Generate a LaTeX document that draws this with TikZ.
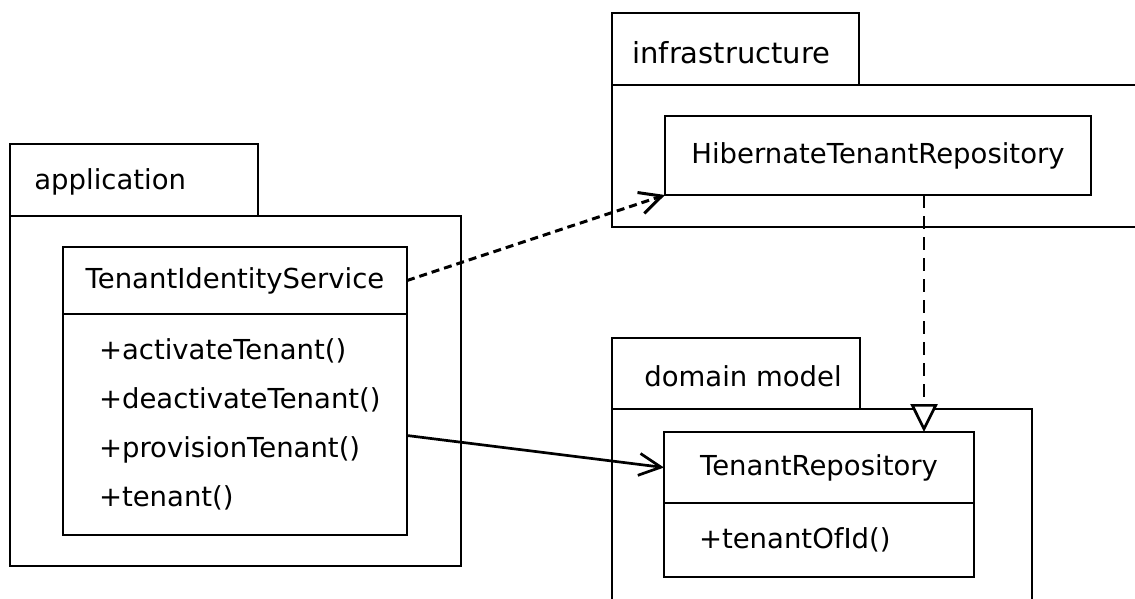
\documentclass[tikz,border=0pt]{standalone}
\usepackage{fontspec}
\setmainfont{DejaVu Sans}
\usetikzlibrary{arrows.meta,positioning}

\tikzset{
    every node/.style={font=\fontsize{27.5}{49}\selectfont},
    pkgname/.style={anchor=west, inner sep=0pt},
    clshead/.style={draw, rectangle, inner sep=0pt, outer sep=0pt},
    clsops/.style={draw, rectangle, align=left, inner xsep=36pt, inner ysep=0pt, outer sep=0pt},
    usedep/.style={line width=3pt, dash pattern=on 8pt off 5pt, -{Straight Barb[length=22pt,width=22pt]}},
    realize/.style={dash pattern=on 13pt off 8pt, -{Triangle[length=28pt,width=27pt,fill=white]}},
    assoc/.style={-{Straight Barb[length=22pt,width=22pt]}}
}

\begin{document}
\begin{tikzpicture}[x=1pt, y=-1pt, line width=2.7pt]
    \useasboundingbox (0,0) rectangle (1135,598);

    % packages
    \draw (10,144) rectangle (258,216);
    \draw (10,216) rectangle (461,566);
    \node[pkgname] (applbl) at (33,182) {application};

    \draw (612,13) rectangle (859,85);
    \draw (612,85) rectangle (1150,227);
    \node[pkgname, font=\fontsize{29}{49}\selectfont] (infralbl) at (631,53) {infrastructure};

    \draw (612,338) rectangle (860,409);
    \draw (612,409) rectangle (1032,620);
    \node[pkgname] (domlbl) at (643,376) {domain model};

    % classes
    \node[clshead, minimum width=344pt, minimum height=67pt] (tis) at (235,280.5) {TenantIdentityService};
    \node[clsops, below=0pt of tis, text width=272pt, minimum height=221pt] (tisops)
        {+activateTenant()\\+deactivateTenant()\\+provisionTenant()\\+tenant()};

    \node[clshead, minimum width=426pt, minimum height=79pt] (hib) at (878,155.5) {HibernateTenantRepository};

    \node[clshead, minimum width=310pt, minimum height=71pt] (tr) at (819,467.5) {TenantRepository};
    \node[clsops, below=0pt of tr, text width=240pt, inner xsep=35pt, minimum height=74pt] (trops)
        {+tenantOfId()};

    % connectors
    \coordinate (realtip) at ([xshift=-50pt]tr.north east);
    \draw[usedep] (tis.east) -- (hib.south west);
    \draw[realize] (hib.south -| realtip) -- (realtip);
    \draw[assoc] ([yshift=-11pt]tisops.east) -- (tr.west);
\end{tikzpicture}
\end{document}
